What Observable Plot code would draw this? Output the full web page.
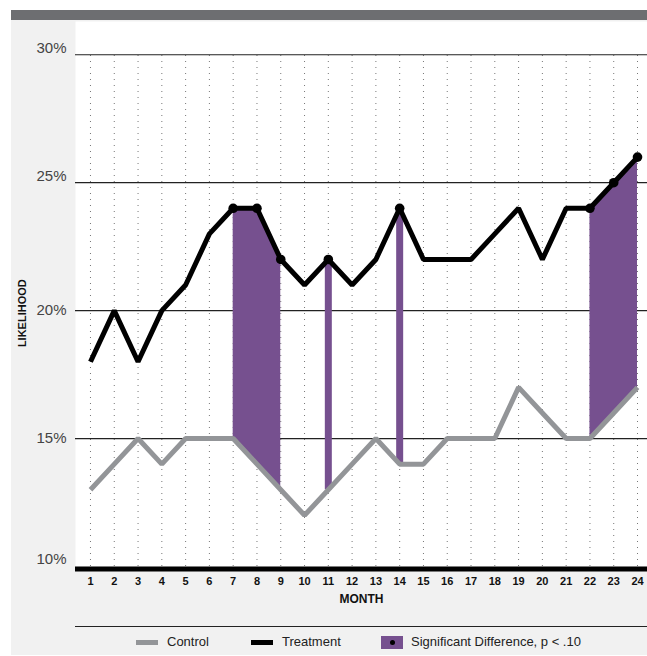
<!DOCTYPE html>
<html><head><meta charset="utf-8">
<script src="https://cdn.jsdelivr.net/npm/d3@7"></script>
<script src="https://cdn.jsdelivr.net/npm/@observablehq/plot@0.6"></script>
<style>
body{margin:0;background:#fff;width:647px;height:656px;overflow:hidden;font-family:"Liberation Sans",Arial,sans-serif;position:relative}
#bar{position:absolute;left:11px;top:10px;width:636px;height:10px;background:#6d6e71}
#panel{position:absolute;left:11px;top:20px;width:636px;height:635px;background:#f1f1f1}
#chart{position:absolute;left:0;top:0}
#legend{position:absolute;left:64px;top:606px;width:572px;height:28px;border-top:1.5px solid #222}
.item{position:absolute;top:7px;font-size:13px;color:#222;line-height:16px;white-space:nowrap}
.sw{position:absolute;}
</style></head>
<body>
<div id="bar"></div>
<div id="panel"><div id="chart"></div>
<div id="legend">
  <div class="sw" style="left:61px;top:13px;width:22px;height:5px;background:#939598"></div>
  <div class="item" style="left:92px">Control</div>
  <div class="sw" style="left:176px;top:13px;width:22px;height:5px;background:#000"></div>
  <div class="item" style="left:207px">Treatment</div>
  <div class="sw" style="left:306px;top:9px;width:22px;height:13px;background:#76508f"><div style="position:absolute;left:9px;top:4px;width:5px;height:5px;border-radius:50%;background:#000"></div></div>
  <div class="item" style="left:336px">Significant Difference, p &lt; .10</div>
</div>
</div>
<script>
const months = [1,2,3,4,5,6,7,8,9,10,11,12,13,14,15,16,17,18,19,20,21,22,23,24];
const treatment = [18,20,18,20,21,23,24,24,22,21,22,21,22,24,22,22,22,23,24,22,24,24,25,26];
const control   = [13,14,15,14,15,15,15,14,13,12,13,14,15,14,14,15,15,15,17,16,15,15,16,17];
const sigMonths = [7,8,9,11,14,22,23,24];
const yTicksHigh = [10,25,30];
const yTicksMid = [15,20];
const gridY = [15,20,25,30];
const purple = "#76508f";

const data = months.map((m,i)=>({month:m, treatment:treatment[i], control:control[i]}));
// group consecutive significant months into runs
let run = 0, prev = null;
const sig = sigMonths.map(m=>{ if(prev!==null && m!==prev+1) run++; prev=m; const d=data.find(e=>e.month===m); return {...d, run}; });
const runSizes = d3.rollup(sig, v=>v.length, d=>d.run);
const areaData = sig.filter(d=>runSizes.get(d.run)>1);
const barData = sig.filter(d=>runSizes.get(d.run)===1);

const chart = Plot.plot({
  width:636, height:595,
  marginLeft:64, marginRight:0, marginTop:1, marginBottom:49,
  x:{domain:[0.37,24.42], axis:null},
  y:{domain:[10,31.3], axis:null},
  style:{background:"transparent", fontFamily:"Liberation Sans, Arial, sans-serif"},
  marks:[
    Plot.frame({fill:"white", stroke:null}),
    Plot.ruleX(months,{x:d=>d, y1:()=>10, y2:()=>30, stroke:"#777", strokeDasharray:"1,5"}),
    Plot.ruleY(gridY,{y:d=>d, stroke:"#222", strokeWidth:1.2}),
    Plot.areaY(areaData,{x:"month", y1:"control", y2:"treatment", z:"run", fill:purple}),
    Plot.ruleX(barData,{x:"month", y1:"control", y2:"treatment", stroke:purple, strokeWidth:7}),
    Plot.line(data,{x:"month", y:"control", stroke:"#939598", strokeWidth:5, strokeLinejoin:"miter", strokeLinecap:"butt"}),
    Plot.line(data,{x:"month", y:"treatment", stroke:"#000", strokeWidth:5, strokeLinejoin:"miter", strokeLinecap:"butt"}),
    Plot.dot(sig,{x:"month", y:"treatment", r:4.8, fill:"#000"}),
    Plot.ruleY([10],{y:d=>d, stroke:"#000", strokeWidth:5, dy:2.5}),
    Plot.text(yTicksHigh,{y:d=>d, frameAnchor:"left", dx:-9, dy:-7, text:d=>d+"%", textAnchor:"end", fontSize:15, fill:"#444"}),
    Plot.text(yTicksMid,{y:d=>d, frameAnchor:"left", dx:-9, dy:0, text:d=>d+"%", textAnchor:"end", fontSize:15, fill:"#444"}),
    Plot.text(months,{x:d=>d, y:()=>10, dy:15, text:d=>String(d), fontWeight:"bold", fontSize:11, fill:"#111"}),
    Plot.text(["MONTH"],{frameAnchor:"bottom", dy:36, text:d=>d, fontWeight:"bold", fontSize:12, fill:"#111"}),
    Plot.text(["LIKELIHOOD"],{y:()=>19.9, frameAnchor:"left", dx:-53, rotate:-90, textAnchor:"middle", text:d=>d, fontWeight:"bold", fontSize:11, fill:"#111"})
  ]
});
document.getElementById("chart").appendChild(chart);
</script>
</body></html>
